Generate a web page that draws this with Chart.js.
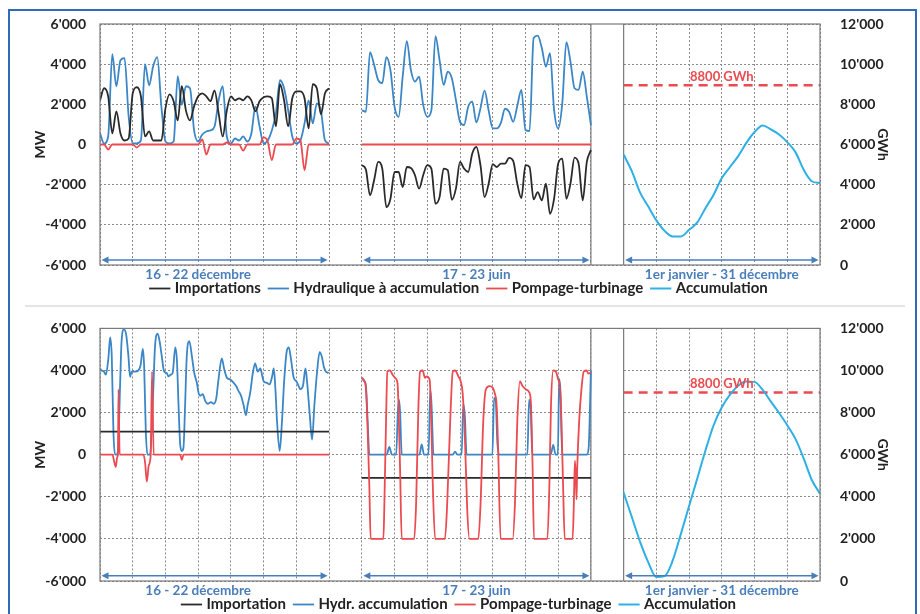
<!DOCTYPE html>
<html>
<head>
<meta charset="utf-8">
<script src="https://cdn.jsdelivr.net/npm/chart.js@4.4.1/dist/chart.umd.min.js"></script>
<style>
html,body{margin:0;padding:0;background:#fff;}
#wrap{position:relative;width:920px;height:614px;overflow:hidden;background:#fff;}
#frame{position:absolute;left:8px;top:9px;width:905px;height:660px;border:2px solid #2f6cb5;}
#sep{position:absolute;left:25px;top:305px;width:880px;height:2px;background:#e4e4e4;}
#c1{position:absolute;left:0;top:0;}
#c2{position:absolute;left:0;top:306px;}
</style>
</head>
<body>
<div id="wrap">
  <div id="frame"></div>
  <div id="sep"></div>
  <canvas id="c1" width="920" height="306"></canvas>
  <canvas id="c2" width="920" height="316"></canvas>
</div>
<script>
// ================= DATA =================
const sectionLabels = ['16 - 22 décembre', '17 - 23 juin', '1er janvier - 31 décembre'];
const sectionStarts = [0, 8, 16];      // x-domain: days of week 1, days of week 2, year (1 unit = 2 months)
const sectionEnds   = [7, 15, 22];
const sectionLabelAt = [3, 11.5, 19];
const blankSpan = [15, 16];
const refValue = 8950;                 // GWh level of the dashed line
const refText = '8800 GWh';
const refTextX = 19;
const arrowLevel = -5750;

const legendTop = ['Importations', 'Hydraulique à accumulation', 'Pompage-turbinage', 'Accumulation'];
const legendBottom = ['Importation', 'Hydr. accumulation', 'Pompage-turbinage', 'Accumulation'];

// ---- Top panel: values every 3 hours (MW) ----
const top_decImport = [2200,2800,2400,550,1650,550,200,300,2550,2850,2400,400,650,200,200,200,1800,2500,2150,1200,2900,1700,1200,1900,2400,2550,2400,2150,2700,1550,400,1700,2400,2200,2300,2200,2400,2200,1650,2150,2350,2400,2300,900,3000,2200,900,2300,2650,2650,2300,800,3000,2800,1500,2550,2800];
const top_decHydro  = [550,50,400,4500,2900,4200,4300,1400,50,50,200,4000,2950,3900,4350,1900,150,50,150,3400,1980,2900,2800,700,150,500,650,700,900,2200,2900,400,50,300,200,400,150,550,1900,900,50,200,700,1550,3200,2800,1700,400,50,200,1050,2200,1050,2050,1700,200,50];
const top_decPump   = [0,0,-250,0,0,0,0,0,0,-150,0,0,0,0,0,0,0,0,0,0,0,0,0,0,0,250,-500,0,0,0,0,100,0,0,0,-300,0,0,0,0,350,150,-780,0,0,0,0,0,300,200,-1280,0,0,0,0,0,0];
const top_junHydro  = [1700,1630,4600,3970,3200,3050,4350,3700,1880,1380,3400,5150,3700,3130,3380,1970,1380,1700,5400,4200,2970,3630,3300,2220,1130,970,1880,2130,1100,1800,2680,1700,800,800,1080,1780,1630,1130,1920,2720,720,670,5300,5420,4800,3880,4550,1720,800,2050,5100,4130,2800,2720,3630,2380,970];
const top_junImport = [-1030,-1250,-2530,-1780,-870,-1200,-3120,-2700,-1370,-1370,-2120,-1120,-1170,-1530,-2200,-1530,-1030,-1200,-2950,-2620,-1200,-1280,-2750,-2200,-870,-1200,-1370,-450,-120,-1030,-2620,-1950,-980,-1120,-950,-950,-670,-820,-1950,-2670,-1030,-1120,-2730,-2370,-2780,-1950,-3450,-2700,-950,-700,-2700,-1950,-650,-950,-2780,-870,-280];
const top_junPump   = [0, 0];
// annual storage (GWh), 4 values per 2-month unit
const top_accum = [5500,4670,3620,2920,2220,1700,1420,1420,1750,2120,2830,3500,4330,4880,5420,6080,6620,6950,6750,6500,6120,5620,4750,4170,4080];

// ---- Bottom panel (irregular time in days) ----
const bot_decImport = [1100, 1100];
const bot_decHydroT = [0,0.05,0.12,0.18,0.26,0.31,0.36,0.41,0.46,0.51,0.56,0.61,0.66,0.73,0.80,0.87,0.92,0.97,1.07,1.17,1.24,1.31,1.35,1.40,1.45,1.53,1.61,1.68,1.76,1.82,1.89,1.96,2.04,2.09,2.16,2.22,2.30,2.35,2.40,2.45,2.50,2.55,2.60,2.65,2.73,2.81,2.88,2.96,3.01,3.06,3.14,3.21,3.29,3.39,3.47,3.55,3.62,3.72,3.80,3.88,3.98,4.08,4.16,4.23,4.31,4.39,4.46,4.51,4.59,4.67,4.74,4.82,4.90,4.95,5.00,5.10,5.18,5.26,5.31,5.36,5.41,5.49,5.56,5.63,5.71,5.77,5.84,5.92,6.00,6.07,6.12,6.20,6.28,6.33,6.41,6.48,6.55,6.63,6.71,6.78,6.84,6.90,6.99];
const bot_decHydroV = [4100,4000,3950,3800,4650,5570,4650,1100,0,0,500,3100,5400,5950,5700,4650,3700,3950,3950,4000,4250,5030,4150,1100,0,0,2340,5100,5750,5400,4650,3950,3880,3720,3800,3880,5100,4490,2340,490,180,330,2340,4650,5400,4650,3880,3410,2950,2800,2880,2570,2420,2500,2420,2650,3570,4570,4030,3650,3570,3420,3260,3030,2800,2340,1880,2340,2950,3880,4340,3950,4100,3800,3490,3410,3340,3720,4100,3110,1570,180,1570,3570,4950,5100,4490,3650,3490,3260,3110,3260,4100,3410,1880,720,2340,3880,4870,4640,4180,3950,3880];
const bot_decPumpT = [0,0.38,0.43,0.48,0.53,0.55,0.565,0.60,1.33,1.38,1.43,1.49,1.55,1.59,1.64,2.45,2.50,2.55,7];
const bot_decPumpV = [0,0,-300,-580,-100,0,3100,0,0,-400,-1280,-500,0,3950,0,0,-250,0,0];
const bot_junImport = [-1100, -1100];
const bot_junHydroT = [8.00,8.08,8.13,8.18,8.23,8.76,8.84,8.92,9.05,9.10,9.14,9.17,9.22,9.76,9.83,9.90,10.04,10.09,10.13,10.19,10.78,10.85,10.92,11.05,11.10,11.15,11.20,11.99,12.04,12.09,12.14,12.19,13.06,13.11,13.16,13.21,13.77,13.85,13.92,13.99,14.03,14.07,14.12,14.87,14.93,15.00];
const bot_junHydroV = [3650,3500,3200,1500,0,0,370,0,0,2000,2600,2000,0,0,490,0,0,3100,2400,0,0,150,0,0,2400,1800,0,0,2700,2600,600,0,0,2600,2200,0,0,460,0,0,3600,3000,0,0,300,4000];
const bot_junPumpT = [8.00,8.07,8.12,8.17,8.23,8.27,8.66,8.69,8.74,8.78,8.86,8.95,9.02,9.09,9.12,9.17,9.22,9.60,9.66,9.73,9.78,9.86,9.93,9.98,10.07,10.11,10.17,10.24,10.54,10.61,10.70,10.78,10.85,10.95,11.02,11.08,11.15,11.22,11.29,11.56,11.63,11.71,11.79,11.90,12.00,12.07,12.12,12.17,12.24,12.61,12.68,12.75,12.83,12.91,13.02,13.12,13.17,13.22,13.26,13.67,13.73,13.78,13.85,13.93,14.00,14.05,14.10,14.15,14.20,14.44,14.48,14.51,14.54,14.56,14.58,14.64,14.71,14.78,14.87,14.92,15.00];
const bot_junPumpV = [3650,3500,3250,1570,-1500,-4000,-4000,-2270,1570,3950,4000,3770,3650,3400,2350,-740,-4000,-4000,-2270,2340,3950,4000,3650,3720,3570,2340,-1500,-4000,-4000,-2270,1570,3950,4000,3720,3490,2950,800,-2580,-4000,-4000,-2270,1570,3100,3260,3180,2870,2340,30,-4000,-4000,-2270,1570,3490,3260,3100,2950,2340,-740,-4000,-4000,-1500,2340,4000,3950,3570,3260,1570,-1500,-4000,-4000,-2270,-280,-1040,-2120,-740,1570,3100,3950,4000,3850,3900];
const bot_accum = [4200,3040,1870,900,190,230,975,2240,3560,4870,6200,7400,8250,8850,9280,9480,9460,9080,8520,7980,7400,6750,5830,4800,4150];

// ================= HELPERS =================
const F = 'Lato, "Open Sans", sans-serif';
const COL = {imp:'#2a2a2a', hyd:'#3a86c6', pump:'#ea4a50', acc:'#2fb0e4', grid:'#8a8a8a', frame:'#7a7a7a', blue:'#4a7ebb', text:'#222'};

const regular = (start, step, values) => values.map((v, i) => ({x: start + i * step, y: v}));
const pairs = (times, values) => times.map((t, i) => ({x: t, y: values[i]}));
const span = (a, b, values) => [{x: a, y: values[0]}, {x: b, y: values[values.length - 1]}];
function join(...segs) {
  const out = [];
  segs.forEach((s, i) => {
    if (i > 0) out.push({x: (out[out.length - 1].x + s[0].x) / 2, y: null});
    out.push(...s);
  });
  return out;
}
const fmt = v => (v < 0 ? '-' : '') + Math.abs(v).toString().replace(/\B(?=(\d{3})+(?!\d))/g, "'");

function lineDs(label, data, color, width, order, axis) {
  return {label, data, borderColor: color, backgroundColor: color, borderWidth: width,
    pointRadius: 0, pointHoverRadius: 0, fill: false, cubicInterpolationMode: 'monotone',
    spanGaps: false, order, xAxisID: 'x', yAxisID: axis || 'y'};
}

const decor = {
  id: 'decor',
  beforeDatasetsDraw(chart) {
    const {ctx, chartArea: a, scales: {x}} = chart;
    const l = x.getPixelForValue(blankSpan[0]), r = x.getPixelForValue(blankSpan[1]);
    ctx.save();
    ctx.fillStyle = '#fff';
    ctx.fillRect(l, a.top, r - l, a.bottom - a.top);
    ctx.strokeStyle = COL.frame; ctx.lineWidth = 1.2;
    ctx.beginPath();
    ctx.moveTo(l, a.top); ctx.lineTo(l, a.bottom);
    ctx.moveTo(r, a.top); ctx.lineTo(r, a.bottom);
    ctx.stroke();
    ctx.restore();
  },
  afterDatasetsDraw(chart) {
    const {ctx, chartArea: a, scales: {x, y, y2}} = chart;
    ctx.save();
    ctx.strokeStyle = COL.frame; ctx.lineWidth = 1.2;
    ctx.strokeRect(a.left, a.top, a.right - a.left, a.bottom - a.top);
    // arrows
    const ay = y.getPixelForValue(arrowLevel);
    ctx.strokeStyle = COL.blue; ctx.fillStyle = COL.blue; ctx.lineWidth = 1.5;
    sectionStarts.forEach((s, i) => {
      const x1 = x.getPixelForValue(s) + 1.5, x2 = x.getPixelForValue(sectionEnds[i]) - 1.5;
      ctx.beginPath(); ctx.moveTo(x1 + 4, ay); ctx.lineTo(x2 - 4, ay); ctx.stroke();
      ctx.beginPath(); ctx.moveTo(x1, ay); ctx.lineTo(x1 + 7, ay - 3.5); ctx.lineTo(x1 + 7, ay + 3.5); ctx.closePath(); ctx.fill();
      ctx.beginPath(); ctx.moveTo(x2, ay); ctx.lineTo(x2 - 7, ay - 3.5); ctx.lineTo(x2 - 7, ay + 3.5); ctx.closePath(); ctx.fill();
    });
    // section labels under the plot
    ctx.font = 'bold 13.5px ' + F; ctx.textAlign = 'center'; ctx.textBaseline = 'top';
    sectionLabelAt.forEach((c, i) => ctx.fillText(sectionLabels[i], x.getPixelForValue(c), a.bottom + 3));
    // reference label
    ctx.fillStyle = COL.pump;
    ctx.font = 'bold 13px ' + F;
    ctx.textBaseline = 'bottom';
    ctx.fillText(refText, x.getPixelForValue(refTextX), y2.getPixelForValue(refValue) - 2);
    ctx.restore();
  }
};

function makeChart(id, names, s, padTop) {
  const datasets = [
    lineDs(names[0], s.imp, COL.imp, 1.8, 1),
    lineDs(names[1], s.hyd, COL.hyd, 1.8, 2),
    lineDs(names[2], s.pump, COL.pump, 1.8, 0),
    lineDs(names[3], s.acc, COL.acc, 2, 3, 'y2'),
    Object.assign(lineDs(refText, s.ref, COL.pump, 2.5, 4, 'y2'), {borderDash: [9, 6], cubicInterpolationMode: 'default'})
  ];
  const tickFont = {family: F, size: 14, weight: 'bold'};
  return new Chart(document.getElementById(id), {
    type: 'line',
    data: {datasets},
    options: {
      responsive: false, animation: false, events: [],
      layout: {padding: {left: 20, right: 20, top: padTop, bottom: 0}},
      plugins: {
        tooltip: {enabled: false},
        legend: {
          position: 'bottom',
          labels: {usePointStyle: true, pointStyle: 'line', boxWidth: 20, padding: 10,
            color: COL.text, font: {family: F, size: 15, weight: 'bold'},
            filter: it => it.datasetIndex < 4,
            sort: (a, b) => a.datasetIndex - b.datasetIndex}
        }
      },
      scales: {
        x: {type: 'linear', min: 0, max: 22, position: 'bottom',
          ticks: {stepSize: 1, display: false},
          grid: {drawTicks: false, color: COL.grid, lineWidth: 1},
          border: {display: false, dash: [2, 2]},
          afterFit: sc => { sc.height = 6; }},
        y: {type: 'linear', position: 'left', min: -6000, max: 6000,
          ticks: {stepSize: 2000, padding: 14, color: COL.text, font: tickFont, callback: v => fmt(v)},
          grid: {drawTicks: false, color: COL.grid, lineWidth: 1},
          border: {display: false, dash: [2, 2]},
          title: {display: true, text: 'MW', color: COL.text, font: {family: F, size: 14, weight: 'bold'}, padding: {top: 12, bottom: 0}},
          afterFit: sc => { sc.width = 80; }},
        y2: {type: 'linear', position: 'right', min: 0, max: 12000,
          ticks: {stepSize: 2000, padding: 12, color: COL.text, font: tickFont, callback: v => fmt(v)},
          grid: {display: false}, border: {display: false},
          title: {display: true, text: 'GWh', color: COL.text, font: {family: F, size: 14, weight: 'bold'}, padding: {top: 9, bottom: 0}},
          afterFit: sc => { sc.width = 80; }}
      }
    },
    plugins: [decor]
  });
}

makeChart('c1', legendTop, {
  imp: join(regular(0, 1/8, top_decImport), regular(8, 1/8, top_junImport)),
  hyd: join(regular(0, 1/8, top_decHydro), regular(8, 1/8, top_junHydro)),
  pump: join(regular(0, 1/8, top_decPump), span(8, 15, top_junPump)),
  acc: regular(16, 1/4, top_accum),
  ref: span(16, 22, [refValue, refValue])
}, 24);

makeChart('c2', legendBottom, {
  imp: join(span(0, 7, bot_decImport), span(8, 15, bot_junImport)),
  hyd: join(pairs(bot_decHydroT, bot_decHydroV), pairs(bot_junHydroT, bot_junHydroV)),
  pump: join(pairs(bot_decPumpT, bot_decPumpV), pairs(bot_junPumpT, bot_junPumpV)),
  acc: regular(16, 1/4, bot_accum),
  ref: span(16, 22, [refValue, refValue])
}, 14);
</script>
</body>
</html>
